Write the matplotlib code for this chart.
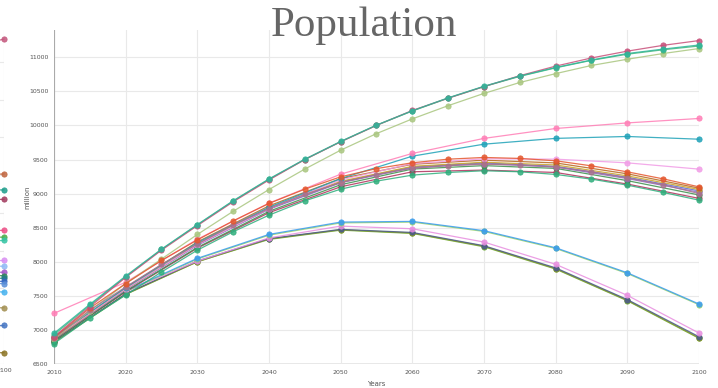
import matplotlib
matplotlib.use('Agg')
import matplotlib.pyplot as plt

# x categories
years_5 = [2010, 2015, 2020, 2025, 2030, 2035, 2040, 2045, 2050, 2055,
           2060, 2065, 2070, 2075, 2080, 2085, 2090, 2095, 2100]
years_10 = [2010, 2020, 2030, 2040, 2050, 2060, 2070, 2080, 2090, 2100]

# main panel series (million), 5-year steps
hi_maroon = [6900, 7340, 7770, 8170, 8530, 8880, 9200, 9500, 9760, 10000,
             10220, 10400, 10570, 10730, 10870, 10990, 11090, 11175, 11245]
hi_teal = [6950, 7375, 7790, 8185, 8545, 8895, 9215, 9505, 9765, 10005,
           10215, 10405, 10575, 10725, 10850, 10960, 11055, 11120, 11180]
hi_green = [6930, 7360, 7780, 8180, 8540, 8890, 9210, 9500, 9762, 10002,
            10212, 10400, 10570, 10720, 10845, 10955, 11045, 11110, 11165]
hi_olive = [6870, 7280, 7680, 8040, 8400, 8740, 9060, 9360, 9637, 9880,
            10096, 10290, 10470, 10630, 10760, 10880, 10971, 11055, 11128]
c_orange = [6890, 7320, 7680, 8020, 8320, 8600, 8856, 9065, 9246, 9367,
            9452, 9505, 9530, 9516, 9481, 9407, 9319, 9216, 9099]
c_green = [6800, 7174, 7511, 7850, 8170, 8440, 8684, 8894, 9065, 9183,
           9271, 9310, 9335, 9320, 9281, 9212, 9124, 9017, 8904]
c_mauve = [6880, 7290, 7630, 7960, 8260, 8540, 8780, 8990, 9160, 9280,
           9370, 9410, 9430, 9420, 9390, 9320, 9230, 9130, 9000]

# main panel series (million), 10-year steps
b_pink = [7243, 7700, 8330, 8860, 9285, 9589, 9810, 9955, 10037, 10102]
b_teal = [6900, 7620, 8280, 8800, 9220, 9549, 9725, 9810, 9838, 9798]
b_violet = [6880, 7600, 8250, 8780, 9200, 9440, 9510, 9505, 9451, 9359]
c_gold = [6870, 7600, 8260, 8790, 9180, 9400, 9460, 9420, 9260, 9060]
c_purple = [6860, 7590, 8240, 8770, 9160, 9380, 9440, 9390, 9220, 9020]
c_maroon = [6850, 7560, 8200, 8720, 9100, 9320, 9345, 9310, 9140, 8930]
c_dkgreen = [6840, 7570, 8210, 8740, 9130, 9360, 9410, 9370, 9190, 8980]
c_brown = [6880, 7620, 8290, 8820, 9220, 9430, 9490, 9450, 9290, 9080]
c_blue = [6870, 7600, 8250, 8780, 9170, 9390, 9450, 9400, 9240, 9040]
d_blue = [6850, 7570, 8050, 8401, 8582, 8592, 8456, 8205, 7838, 7380]
d_lime = [6845, 7560, 8040, 8390, 8570, 8582, 8445, 8195, 7828, 7370]
d_violet = [6880, 7560, 8010, 8350, 8523, 8484, 8289, 7962, 7507, 6954]
d_slate = [6830, 7530, 8010, 8340, 8475, 8430, 8235, 7910, 7445, 6900]
d_olive = [6825, 7525, 8000, 8335, 8470, 8422, 8228, 7900, 7435, 6885]
d_green = [6820, 7520, 8000, 8328, 8464, 8416, 8220, 7893, 7428, 6877]

series_5 = [(hi_olive, '#a9c67f'), (c_green, '#2fae7c'), (c_mauve, '#a8718e'),
            (c_orange, '#e4572e'), (hi_green, '#45b87a'), (hi_maroon, '#c8507a'),
            (hi_teal, '#2fb59a')]
series_10 = [(d_green, '#6aab2b'), (d_olive, '#8d9a2a'), (d_slate, '#4a5a8a'),
             (d_violet, '#e88ee0'), (d_lime, '#9bd36a'), (d_blue, '#3b9cf0'),
             (c_maroon, '#b0305c'), (c_dkgreen, '#3a8f4a'), (c_blue, '#5b6bd6'),
             (c_purple, '#8e6cc0'), (c_gold, '#c9a227'), (c_brown, '#b5651d'),
             (b_violet, '#f19ce6'), (b_teal, '#1fa2b8'), (b_pink, '#ff7eb6')]

# left (cut-off) panel, only its 2090-2100 end is visible
left_years = [2090, 2100]
left_2090 = [8.15, 4.95, 4.55, 4.30, 3.45, 3.30, 3.20, 2.70, 2.55,
             2.40, 2.30, 2.25, 2.15, 2.10, 1.88, 1.45, 0.98, 0.28]
left_2100 = [8.60, 5.03, 4.61, 4.36, 3.54, 3.36, 3.27, 2.74, 2.59,
             2.43, 2.34, 2.27, 2.19, 2.13, 1.91, 1.49, 1.02, 0.30]
left_colors = ['#c4577d', '#c0653f', '#1f9e8c', '#a23b5f', '#ec4f86', '#4aad4a',
               '#35c4a4', '#d98ef2', '#8fb9f5', '#a356c8', '#2e8a56', '#237a8a',
               '#3566c4', '#5a8fd8', '#46b2ee', '#a39052', '#4474c2', '#8c7424']

yticks = [6500, 7000, 7500, 8000, 8500, 9000, 9500, 10000, 10500, 11000]
xticks = years_10

W, H = 718, 388
fig = plt.figure(figsize=(W / 100, H / 100), dpi=100)

bottom = (H - 364) / H
height = (364 - 30) / H

line_kw = dict(marker='o', markersize=3.8, linewidth=0.9, markeredgewidth=0.6,
               alpha=0.85, clip_on=False)

# left partial panel
axl = fig.add_axes([(4 - 71.7) / W, bottom, 71.7 / W, height])
for a, b, c in zip(left_2090, left_2100, left_colors):
    axl.plot(left_years, [a, b], color=c, **line_kw)
axl.set_xlim(2090, 2100)
axl.set_ylim(0, 8.84)
axl.set_xticks([2100])
axl.set_yticks(range(0, 9))
axl.set_yticklabels([])
axl.grid(color='#e9e9e9', linewidth=0.8)
axl.tick_params(length=0, labelsize=4.5, labelcolor='#555555', pad=3)
for s in axl.spines.values():
    s.set_visible(False)

# main panel
ax = fig.add_axes([54 / W, bottom, 645 / W, height])
for vals, c in series_10:
    ax.plot(years_10, vals, color=c, **line_kw)
for vals, c in series_5:
    ax.plot(years_5, vals, color=c, **line_kw)

ax.set_xlim(2010, 2100)
ax.set_ylim(6500, 11400)
ax.set_xticks(xticks)
ax.set_yticks(yticks)
ax.grid(color='#e9e9e9', linewidth=0.8)
ax.set_axisbelow(True)
ax.axhline(6500, color='#e6e6e6', linewidth=2, zorder=0)
ax.tick_params(length=0, labelsize=4.5, labelcolor='#555555', pad=4)
for s in ax.spines.values():
    s.set_visible(False)
ax.axvline(2010, color='#aaaaaa', linewidth=0.8, zorder=1)

ax.set_xlabel('Years', fontsize=5, color='#555555', labelpad=5)
ax.set_ylabel('million', fontsize=5, color='#555555')
ax.yaxis.set_label_coords((30 - 54) / 645, 0.5)

fig.text(364 / W, 1 - 36 / H, 'Population', family='Liberation Serif',
         fontsize=31, color='#666666', ha='center', va='baseline')

fig.savefig('out.png', dpi=100)
